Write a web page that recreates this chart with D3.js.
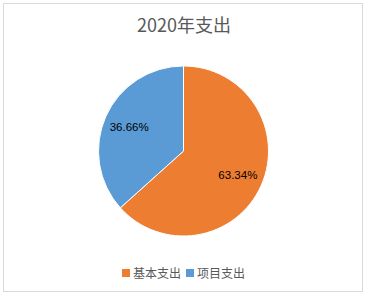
<!DOCTYPE html>
<html><head><meta charset="utf-8">
<script src="https://cdn.jsdelivr.net/npm/d3@7"></script>
<style>body{margin:0;background:#fff}svg{display:block}</style>
</head><body>
<script>
const title = "2020年支出";
const categories = ["基本支出", "项目支出"];
const values = [63.34, 36.66];
const labels = ["63.34%", "36.66%"];
const colors = ["#ED7D31", "#5B9BD5"];

const W = 368, H = 297;
const svg = d3.select("body").append("svg").attr("width", W).attr("height", H);
svg.append("rect").attr("x", 3.5).attr("y", 3.5).attr("width", 359).attr("height", 288)
  .attr("fill", "#fff").attr("stroke", "#D9D9D9").attr("stroke-width", 1);

svg.append("text").attr("x", 184).attr("y", 32).attr("text-anchor", "middle")
  .attr("font-family", "'Noto Sans CJK SC', 'Liberation Sans', sans-serif")
  .attr("font-size", 18).attr("fill", "#595959").text(title);

const cx = 183.5, cy = 151, r = 85;
const data = categories.map((c, i) => ({c, v: values[i], l: labels[i], col: colors[i]}));
const pie = d3.pie().value(d => d.v).sort(null);
const arc = d3.arc().innerRadius(0).outerRadius(r);
const g = svg.append("g").attr("transform", `translate(${cx},${cy})`);
const arcs = pie(data);
g.selectAll("path").data(arcs).join("path").attr("d", arc)
  .attr("fill", d => d.data.col).attr("stroke", "#fff").attr("stroke-width", 1);
const labelArc = d3.arc().innerRadius(r * 0.7).outerRadius(r * 0.7);
g.selectAll("text.lbl").data(arcs).join("text").attr("class", "lbl")
  .attr("transform", d => `translate(${labelArc.centroid(d)})`)
  .attr("text-anchor", "middle").attr("dy", "0.35em")
  .attr("font-family", "'Liberation Sans', Arial, sans-serif").attr("font-size", 11.5)
  .attr("fill", "#000").text(d => d.data.l);

const leg = svg.append("g").attr("font-family", "'Noto Sans CJK SC', sans-serif").attr("font-size", 12).attr("fill", "#595959");
const lx = [122, 186];
data.forEach((d, i) => {
  leg.append("rect").attr("x", lx[i]).attr("y", 269).attr("width", 8).attr("height", 8).attr("fill", d.col);
  leg.append("text").attr("x", lx[i] + 11).attr("y", 277.5).text(d.c);
});
</script>
</body></html>
